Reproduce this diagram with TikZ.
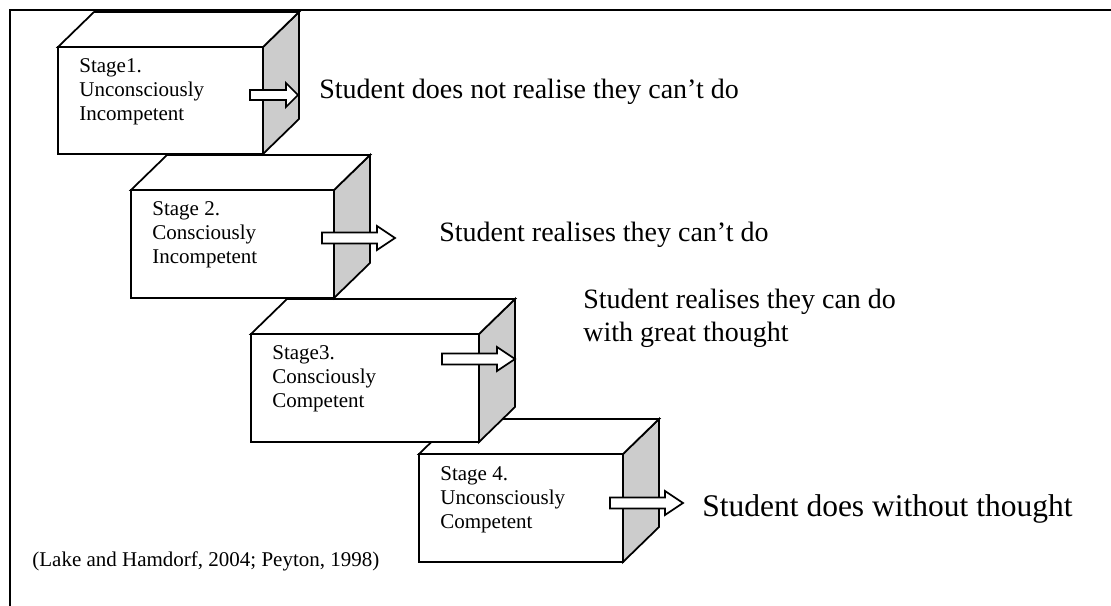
\documentclass[tikz,border=0pt]{standalone}
\usepackage{fontspec}
\setmainfont{Liberation Serif}

\begin{document}
\begin{tikzpicture}[x=0.5714pt,y=-0.5714pt,
    face/.style={draw,line width=1pt,fill=white},
    side/.style={draw,line width=1pt,fill=black!20},
    blockarrow/.style={draw,line width=1pt,fill=white},
    stagetext/.style={anchor=north west,inner sep=0,align=left,
      font=\fontsize{12}{13.8}\selectfont},
    bigtext/.style={anchor=base west,inner sep=0,align=left,
      font=\fontsize{16}{18.3}\selectfont}]
    \useasboundingbox (0,0) rectangle (1111,606);

    % Frame
    \draw[line width=0.9pt] (1111,10) -- (10,10) -- (10,606);

    % Stage 4 (behind stage 3)
    \draw[side] (623,454) -- (659,419) -- (659,527) -- (623,562) -- cycle;
    \draw[face] (419,454) -- (455,419) -- (659,419) -- (623,454) -- cycle;
    \draw[face] (419,454) rectangle (623,562);
    \node[stagetext] (st4) at (440,466) {Stage 4.\\Unconsciously\\Competent};
    \draw[blockarrow] (610,497.5) -- (665,497.5) -- (665,491) -- (683,503)
      -- (665,515) -- (665,508.5) -- (610,508.5) -- cycle;

    % Stage 3
    \draw[side] (479,334) -- (515,299) -- (515,407) -- (479,442) -- cycle;
    \draw[face] (251,334) -- (287,299) -- (515,299) -- (479,334) -- cycle;
    \draw[face] (251,334) rectangle (479,442);
    \node[stagetext] (st3) at (272,345) {Stage3.\\Consciously\\Competent};
    \draw[blockarrow] (442,353.5) -- (497,353.5) -- (497,347) -- (515,359)
      -- (497,371) -- (497,364.5) -- (442,364.5) -- cycle;

    % Stage 2
    \draw[side] (334,190) -- (370,155) -- (370,263) -- (334,298) -- cycle;
    \draw[face] (131,190) -- (167,155) -- (370,155) -- (334,190) -- cycle;
    \draw[face] (131,190) rectangle (334,298);
    \node[stagetext] (st2) at (152,201) {Stage 2.\\Consciously\\Incompetent};
    \draw[blockarrow] (322,232.5) -- (377,232.5) -- (377,226) -- (395,238)
      -- (377,250) -- (377,243.5) -- (322,243.5) -- cycle;

    % Stage 1
    \draw[side] (263,47) -- (299,12) -- (299,119) -- (263,154) -- cycle;
    \draw[face] (58,47) -- (94,12) -- (299,12) -- (263,47) -- cycle;
    \draw[face] (58,47) rectangle (263,154);
    \node[stagetext] (st1) at (79,58) {Stage1.\\Unconsciously\\Incompetent};
    \draw[blockarrow] (250,90) -- (286,90) -- (286,83) -- (298,95)
      -- (286,107) -- (286,100) -- (250,100) -- cycle;

    % What the student does
    \node[bigtext] (do1) at (319,99) {Student does not realise they can’t do};
    \node[bigtext] (do2) at (439,242) {Student realises they can’t do};
    \node[bigtext] (do3) at (583,341) {Student realises they can do\\with great thought};
    \node[bigtext,font=\fontsize{18}{21}\selectfont] (do4) at (702,516)
      {Student does without thought};

    % Source
    \node[anchor=base west,inner sep=0,font=\fontsize{12}{14}\selectfont] (src)
      at (32,566) {(Lake and Hamdorf, 2004; Peyton, 1998)};
\end{tikzpicture}
\end{document}
